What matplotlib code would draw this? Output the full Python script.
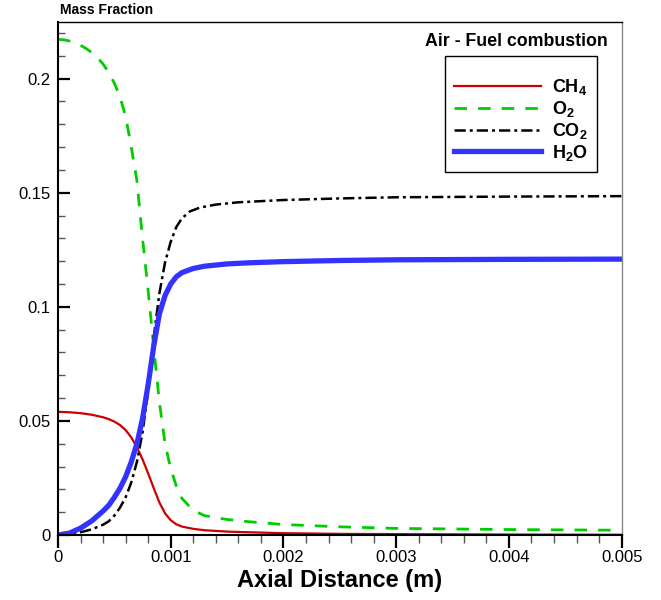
import matplotlib
matplotlib.use("Agg")
import matplotlib.pyplot as plt
from matplotlib.ticker import MultipleLocator, FormatStrFormatter

plt.rcParams['font.family'] = ['Liberation Sans', 'DejaVu Sans']
plt.rcParams['mathtext.fontset'] = 'custom'
plt.rcParams['mathtext.rm'] = 'Liberation Sans'
plt.rcParams['mathtext.bf'] = 'Liberation Sans:bold'

# Mass fraction profiles along the axis (x in m)
x_ch4 = [0, 0.0001, 0.0002, 0.0003, 0.0004, 0.00045, 0.0005, 0.00055, 0.0006, 0.00065,
         0.0007, 0.00075, 0.0008, 0.00085, 0.0009, 0.00095, 0.001, 0.00105, 0.0011,
         0.0012, 0.0013, 0.0015, 0.0017, 0.002, 0.0025, 0.003, 0.004, 0.005]
y_ch4 = [0.0540, 0.0538, 0.0534, 0.0527, 0.0516, 0.0508, 0.0497, 0.0482, 0.0460, 0.0428,
         0.0385, 0.0332, 0.0270, 0.0205, 0.0142, 0.0095, 0.0065, 0.0047, 0.0037,
         0.0027, 0.0021, 0.0015, 0.0012, 0.0008, 0.0005, 0.0004, 0.0002, 0.0001]

x_o2 = [0, 0.00005, 0.0001, 0.00015, 0.0002, 0.00025, 0.0003, 0.00035, 0.0004, 0.00045,
        0.0005, 0.00055, 0.0006, 0.00065, 0.0007, 0.00075, 0.0008, 0.00085, 0.0009,
        0.00095, 0.001, 0.00105, 0.0011, 0.0012, 0.0013, 0.0015, 0.0017, 0.002, 0.0025,
        0.003, 0.004, 0.005]
y_o2 = [0.2172, 0.2170, 0.2165, 0.2157, 0.2146, 0.2132, 0.2114, 0.2092, 0.2064, 0.2027,
        0.1980, 0.1920, 0.1835, 0.1700, 0.1554, 0.1300, 0.1070, 0.0820, 0.0580,
        0.0400, 0.0290, 0.0215, 0.0160, 0.0108, 0.0085, 0.0068, 0.0058, 0.0046, 0.0036,
        0.0029, 0.0024, 0.0021]

x_co2 = [0, 0.0001, 0.0002, 0.0003, 0.0004, 0.00045, 0.0005, 0.00055, 0.0006, 0.00065,
         0.0007, 0.00075, 0.0008, 0.00085, 0.0009, 0.00095, 0.001, 0.00105, 0.0011,
         0.00117, 0.00126, 0.0014, 0.0016, 0.002, 0.0025, 0.003, 0.004, 0.005]
y_co2 = [0.0, 0.0003, 0.0012, 0.0025, 0.0045, 0.0060, 0.0085, 0.0120, 0.0165, 0.0230,
         0.0320, 0.0450, 0.0630, 0.0870, 0.1060, 0.1195, 0.1285, 0.1350, 0.1388,
         0.1418, 0.1435, 0.1448, 0.1458, 0.1468, 0.1475, 0.1480, 0.1483, 0.1485]

x_h2o = [0, 0.0001, 0.0002, 0.0003, 0.0004, 0.00045, 0.0005, 0.00055, 0.0006, 0.00065,
         0.0007, 0.00075, 0.0008, 0.00085, 0.0009, 0.00095, 0.001, 0.00105, 0.0011,
         0.0012, 0.0013, 0.0015, 0.0017, 0.002, 0.0025, 0.003, 0.004, 0.005]
y_h2o = [0.0, 0.0008, 0.0030, 0.0062, 0.0105, 0.0130, 0.0165, 0.0205, 0.0255, 0.0320,
         0.0400, 0.0510, 0.0660, 0.0830, 0.0970, 0.1050, 0.1100, 0.1132, 0.1150,
         0.1168, 0.1178, 0.1188, 0.1193, 0.1198, 0.1203, 0.1206, 0.1208, 0.1209]

labels = [r'$\mathbf{CH_4}$', r'$\mathbf{O_2}$', r'$\mathbf{CO_2}$', r'$\mathbf{H_2O}$']

fig = plt.figure(figsize=(6.61, 6.0), dpi=100)
ax = fig.add_axes([0.0877, 0.1083, 0.8528, 0.8550])

ax.plot(x_ch4, y_ch4, color='#cc0000', lw=1.6, label=labels[0])
ax.plot(x_o2, y_o2, color='#00cc00', lw=2.0, dashes=(4.5, 4), label=labels[1])
ax.plot(x_co2, y_co2, color='black', lw=1.8, dashes=(4.5, 1.6, 1.2, 1.6), label=labels[2])
ax.plot(x_h2o, y_h2o, color='#3333ff', lw=3.8, label=labels[3])

ax.set_xlim(0, 0.005)
ax.set_ylim(0, 0.2248)

ax.xaxis.set_major_locator(MultipleLocator(0.001))
ax.xaxis.set_minor_locator(MultipleLocator(0.0002))
ax.yaxis.set_major_locator(MultipleLocator(0.05))
ax.yaxis.set_minor_locator(MultipleLocator(0.01))
ax.xaxis.set_major_formatter(FormatStrFormatter('%g'))
ax.yaxis.set_major_formatter(FormatStrFormatter('%g'))

ax.tick_params(axis='y', which='major', direction='in', length=8.5, width=1.6,
               labelsize=12, pad=5.5, right=False)
ax.tick_params(axis='y', which='minor', direction='in', length=5, width=1.0,
               color='#555555', right=False)
ax.tick_params(axis='x', which='major', direction='out', length=9.5, width=1.6,
               labelsize=12, pad=1.5, top=False)
ax.tick_params(axis='x', which='minor', direction='out', length=5.5, width=1.0,
               color='#555555', top=False)

ax.spines['left'].set_linewidth(1.5)
ax.spines['bottom'].set_linewidth(1.5)
ax.spines['top'].set_linewidth(1.0)
ax.spines['right'].set_linewidth(1.0)
ax.spines['right'].set_color('#888888')

ax.set_xlabel('Axial Distance (m)', fontsize=17, fontweight='bold', labelpad=3)
fig.text(60 / 661, 1 - 17.5 / 600, 'Mass Fraction', fontsize=10, fontweight='bold',
         ha='left', va='bottom')

ax.text(0.9757, 0.963, 'Air - Fuel combustion', transform=ax.transAxes,
        fontsize=12.8, fontweight='bold', ha='right', va='center')

leg = ax.legend(loc='upper right', bbox_to_anchor=(0.956, 0.933), fontsize=13,
                frameon=True, fancybox=False, edgecolor='black', framealpha=1,
                handlelength=4.8, handletextpad=0.6, labelspacing=0.1,
                borderpad=0.5, title=' ', title_fontsize=8, borderaxespad=0)
leg.get_frame().set_linewidth(1.0)

fig.savefig('out.png', dpi=100)
